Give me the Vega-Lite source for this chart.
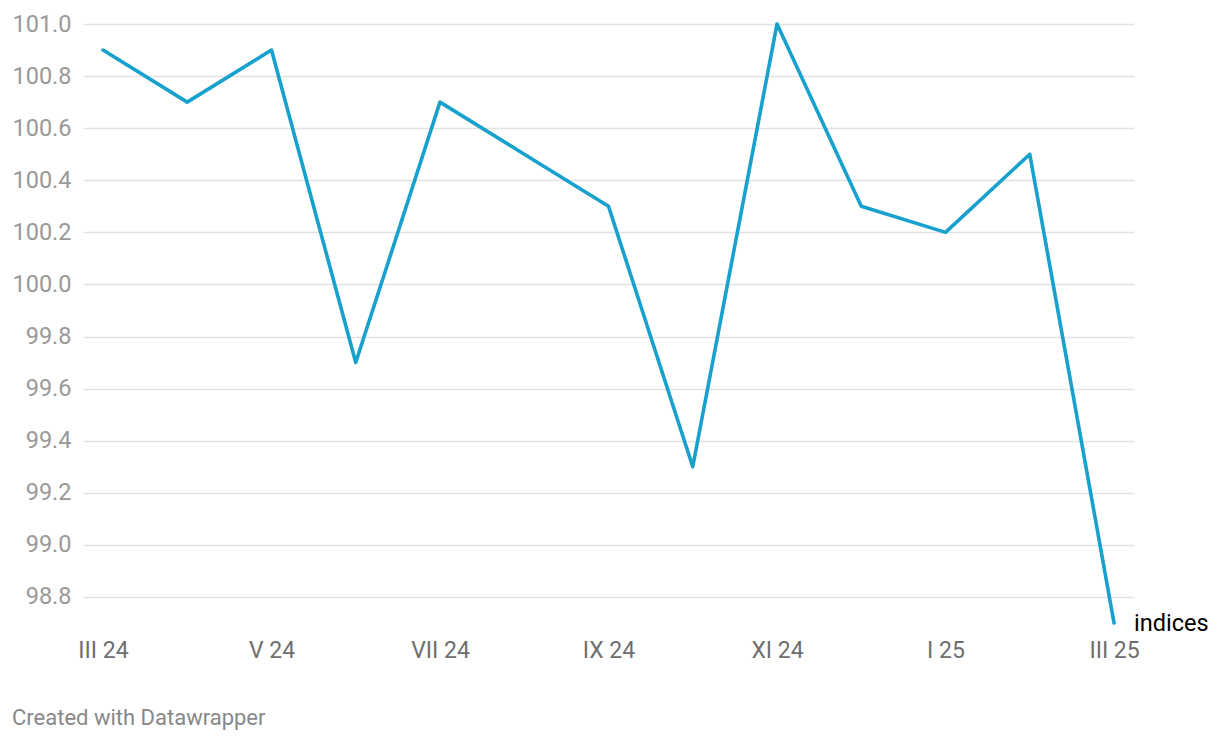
{
  "$schema": "https://vega.github.io/schema/vega-lite/v6.json",
  "width": 1051,
  "height": 599,
  "autosize": {"type": "none"},
  "padding": {"left": 83, "top": 24, "right": 86, "bottom": 117},
  "background": "#ffffff",
  "config": {
    "font": "Roboto",
    "view": {"stroke": null}
  },
  "title": {
    "text": "Created with Datawrapper",
    "orient": "bottom",
    "anchor": "start",
    "frame": "bounds",
    "font": "Roboto",
    "fontSize": 22,
    "fontWeight": "normal",
    "color": "#888888",
    "offset": 46
  },
  "data": {
    "values": [
      {"month": "III 24", "value": 100.9},
      {"month": "IV 24", "value": 100.7},
      {"month": "V 24", "value": 100.9},
      {"month": "VI 24", "value": 99.7},
      {"month": "VII 24", "value": 100.7},
      {"month": "VIII 24", "value": 100.5},
      {"month": "IX 24", "value": 100.3},
      {"month": "X 24", "value": 99.3},
      {"month": "XI 24", "value": 101.0},
      {"month": "XII 24", "value": 100.3},
      {"month": "I 25", "value": 100.2},
      {"month": "II 25", "value": 100.5},
      {"month": "III 25", "value": 98.7}
    ]
  },
  "encoding": {
    "x": {
      "field": "month",
      "type": "ordinal",
      "sort": null,
      "scale": {"type": "point", "padding": 0.237},
      "axis": {
        "title": null,
        "values": ["III 24", "V 24", "VII 24", "IX 24", "XI 24", "I 25", "III 25"],
        "domain": false,
        "ticks": false,
        "grid": false,
        "labelAngle": 0,
        "labelFont": "Roboto",
        "labelFontSize": 23,
        "labelColor": "#6e6e6e",
        "labelPadding": 16
      }
    },
    "y": {
      "field": "value",
      "type": "quantitative",
      "scale": {"domain": [98.7, 101.0], "nice": false, "zero": false},
      "axis": {
        "title": null,
        "values": [98.8, 99.0, 99.2, 99.4, 99.6, 99.8, 100.0, 100.2, 100.4, 100.6, 100.8, 101.0],
        "format": ".1f",
        "domain": false,
        "ticks": false,
        "grid": true,
        "gridColor": "#e2e2e2",
        "gridWidth": 1.3,
        "labelFont": "Roboto",
        "labelFontSize": 23.5,
        "labelColor": "#999999",
        "labelPadding": 12
      }
    }
  },
  "layer": [
    {
      "mark": {"type": "line", "color": "#18a1cd", "strokeWidth": 3.6, "strokeJoin": "round", "strokeCap": "round"}
    },
    {
      "transform": [{"filter": "datum.month === 'III 25'"}],
      "mark": {"type": "text", "align": "left", "baseline": "middle", "dx": 20, "dy": 1, "font": "Roboto", "fontSize": 23.5, "color": "#000000"},
      "encoding": {"text": {"value": "indices"}}
    }
  ]
}
